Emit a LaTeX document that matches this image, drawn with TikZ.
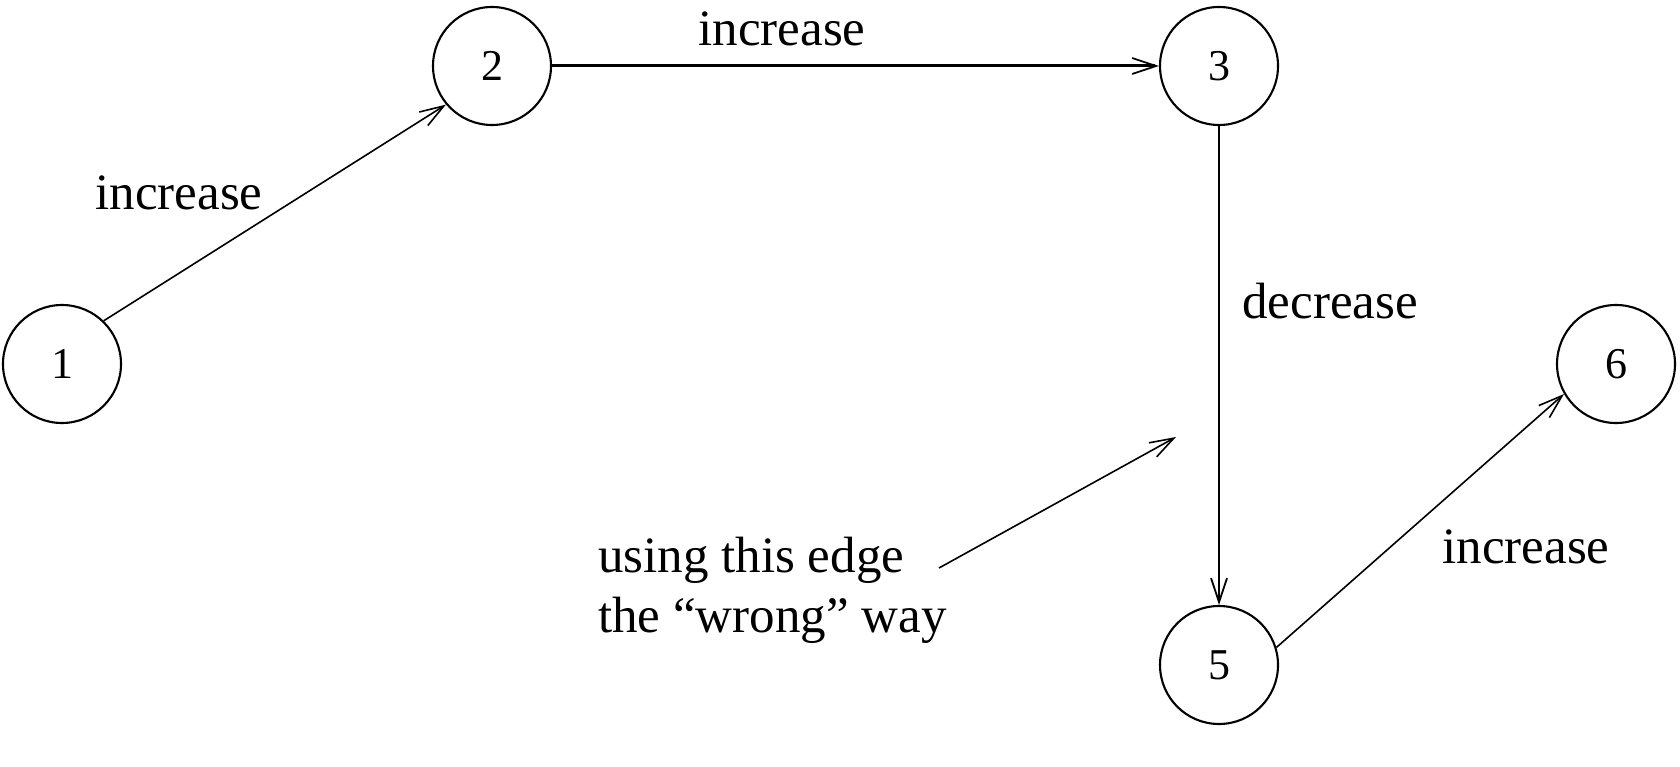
\documentclass[tikz,border=0pt]{standalone}
\usepackage{fontspec}
\setmainfont{Liberation Serif}
\usetikzlibrary{arrows.meta}
\begin{document}
\begin{tikzpicture}[x=1pt,y=-1pt,
  state/.style={circle,draw,line width=2.1pt,minimum size=118pt,inner sep=0pt,font=\fontsize{44}{52}\selectfont},
  lbl/.style={font=\fontsize{51}{60}\selectfont,inner sep=0pt},
  edge/.style={line width=1.6pt,-{Straight Barb[length=24pt,width=16pt,line width=1.6pt]}},
  thickedge/.style={line width=3pt,-{Straight Barb[length=24pt,width=16pt,line width=1.8pt]}}]
\useasboundingbox (0,0) rectangle (1680,767);
\node[state] (n1) at (62,364) {1};
\node[state] (n2) at (492,66) {2};
\node[state] (n3) at (1219,66) {3};
\node[state] (n5) at (1219,665) {5};
\node[state] (n6) at (1616,364) {6};
\draw[edge] (n1.46) -- (n2.220);
\draw[thickedge] (n2) -- (n3);
\draw[thickedge,line width=2.6pt] (n3) -- (n5);
\draw[edge] (n5.17) -- (n6.210);
\node[lbl] (l12) at (179,193) {increase};
\node[lbl] (l23) at (782,29) {increase};
\node[lbl] (l35) at (1330,301) {decrease};
\node[lbl] (l56) at (1526,547) {increase};
\node[lbl,align=left,anchor=west] (note) at (598,590) {using this edge\\the “wrong” way};
\coordinate (ntail) at (939,568);
\coordinate (nhead) at (1176,437);
\draw[edge] (ntail) -- (nhead);
\end{tikzpicture}
\end{document}
